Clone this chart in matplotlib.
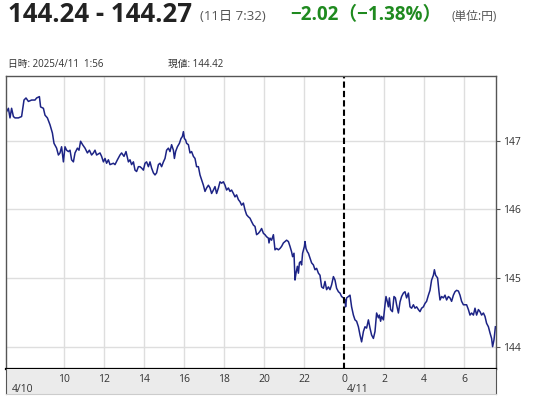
import matplotlib
matplotlib.use('Agg')
import matplotlib.pyplot as plt

plt.rcParams['font.family'] = ['Open Sans', 'Noto Sans CJK JP', 'DejaVu Sans']

# hours counted from 2025/4/10 0:00
hours = [7.13, 7.22, 7.30, 7.38, 7.47, 7.55, 7.72, 7.88, 8.0, 8.1, 8.22, 8.38, 8.55, 8.63, 8.77,
         8.83, 8.97, 9.05, 9.17, 9.3, 9.42, 9.5, 9.63, 9.72, 9.8, 9.88, 9.97, 10.05, 10.13, 10.22,
         10.3, 10.38, 10.47, 10.55, 10.67, 10.75, 10.83, 10.93, 11.05, 11.17, 11.27, 11.38, 11.47,
         11.55, 11.63, 11.8, 11.88, 11.97, 12.05, 12.13, 12.22, 12.3, 12.47, 12.55, 12.67, 12.8,
         12.88, 13.0, 13.1,
         13.22, 13.3, 13.38, 13.47, 13.55, 13.63, 13.72, 13.8, 13.88, 13.97, 14.05, 14.13, 14.22,
         14.3, 14.38, 14.47, 14.55, 14.63, 14.72, 14.8, 14.88, 14.97, 15.05, 15.13, 15.22, 15.3,
         15.38, 15.47, 15.52, 15.58, 15.67, 15.77, 15.85, 15.92, 15.97, 16.02, 16.08, 16.13, 16.22,
         16.3, 16.38, 16.47, 16.55, 16.63, 16.72, 16.8, 16.88, 16.97, 17.05, 17.13, 17.22, 17.3,
         17.38, 17.47, 17.55, 17.63, 17.72, 17.8, 17.88, 17.97, 18.05, 18.13, 18.22, 18.3, 18.38,
         18.47, 18.55, 18.63, 18.72, 18.8, 18.88, 18.97, 19.05, 19.13, 19.22,
         19.3, 19.38, 19.47, 19.55, 19.63, 19.72, 19.8, 19.88, 19.97, 20.05, 20.13, 20.22, 20.25,
         20.3, 20.38, 20.47, 20.55, 20.63, 20.72, 20.8, 20.88, 20.97, 21.05, 21.13, 21.22, 21.3,
         21.38, 21.43, 21.5, 21.55, 21.6, 21.67, 21.72, 21.77, 21.83, 21.88, 21.93, 22.02, 22.05,
         22.1, 22.17, 22.22, 22.3, 22.38, 22.47, 22.55, 22.63, 22.72, 22.8, 22.88, 22.97, 23.05,
         23.13, 23.22, 23.3, 23.38, 23.47, 23.55, 23.63, 23.72, 23.8, 23.88, 23.97, 24.05, 24.08,
         24.13, 24.22, 24.3, 24.38, 24.47, 24.55, 24.63, 24.72, 24.8, 24.88, 24.97, 25.05, 25.13,
         25.22,
         25.3, 25.38, 25.47, 25.55, 25.63, 25.72, 25.77, 25.83, 25.88, 25.97, 26.05, 26.1, 26.17,
         26.22, 26.27, 26.33, 26.42, 26.5, 26.57, 26.63, 26.72, 26.8, 26.88, 26.97, 27.05, 27.13,
         27.22, 27.3, 27.38, 27.47, 27.55, 27.63, 27.72, 27.8, 27.88, 27.97, 28.05, 28.13, 28.22,
         28.3, 28.38, 28.47, 28.52, 28.58, 28.68, 28.75, 28.8, 28.88, 28.97, 29.05, 29.13, 29.22,
         29.3, 29.38, 29.47, 29.55, 29.63, 29.72, 29.8, 29.88, 29.97, 30.13, 30.22, 30.3, 30.38,
         30.47, 30.55, 30.63, 30.72, 30.8, 30.88, 30.97, 31.05, 31.13, 31.22, 31.3, 31.38, 31.43,
         31.5, 31.57]

price = [147.42, 147.47, 147.33, 147.47, 147.35, 147.33, 147.33, 147.35, 147.59, 147.62, 147.57,
         147.59, 147.59, 147.62, 147.64, 147.49, 147.47, 147.37, 147.33, 147.23, 147.11, 146.96,
         146.89, 146.79, 146.82, 146.91, 146.69, 146.91, 146.86, 146.84, 146.86, 146.72, 146.69,
         146.82, 146.89, 146.86, 146.99, 146.94, 146.89, 146.82, 146.86, 146.79, 146.82, 146.86,
         146.79, 146.82, 146.77, 146.69, 146.74, 146.67, 146.72, 146.65, 146.67, 146.65, 146.72,
         146.79, 146.82, 146.77, 146.84,
         146.69, 146.72, 146.65, 146.69, 146.57, 146.55, 146.62, 146.62, 146.60, 146.57, 146.67,
         146.69, 146.62, 146.69, 146.60, 146.53, 146.50, 146.53, 146.65, 146.67, 146.62, 146.69,
         146.74, 146.86, 146.89, 146.84, 146.94, 146.86, 146.74, 146.84, 146.91, 146.96, 147.03,
         147.06, 147.13, 147.03, 147.01, 146.96, 146.94, 146.82, 146.84, 146.77, 146.74, 146.62,
         146.62, 146.50, 146.43, 146.35, 146.26, 146.31, 146.35, 146.31, 146.23, 146.28, 146.33,
         146.23, 146.31, 146.40, 146.38, 146.40, 146.35, 146.28, 146.31, 146.26, 146.28, 146.23,
         146.18, 146.21, 146.14, 146.11, 146.06, 146.09, 145.99, 145.92, 145.89,
         145.87, 145.82, 145.77, 145.75, 145.63, 145.65, 145.68, 145.72, 145.65, 145.63, 145.60,
         145.58, 145.51, 145.58, 145.55, 145.63, 145.41, 145.43, 145.41, 145.43, 145.46, 145.51,
         145.53, 145.55, 145.53, 145.46, 145.38, 145.31, 145.36, 144.97, 145.07, 145.17, 145.07,
         145.22, 145.24, 145.19, 145.36, 145.46, 145.53, 145.43, 145.38, 145.36, 145.29, 145.22,
         145.19, 145.12, 145.14, 145.07, 145.04, 144.87, 144.85, 144.95, 144.83, 144.87, 144.83,
         144.90, 145.02, 144.97, 144.85, 144.80, 144.78, 144.73, 144.71, 144.68, 144.58, 144.71,
         144.73, 144.75, 144.58, 144.46, 144.39, 144.37, 144.29, 144.17, 144.07, 144.22, 144.29,
         144.27, 144.39,
         144.27, 144.17, 144.12, 144.22, 144.49, 144.42, 144.46, 144.37, 144.44, 144.39, 144.61,
         144.73, 144.65, 144.58, 144.71, 144.54, 144.51, 144.73, 144.71, 144.61, 144.49, 144.65,
         144.73, 144.78, 144.80, 144.71, 144.78, 144.58, 144.56, 144.61, 144.56, 144.58, 144.54,
         144.51, 144.56, 144.58, 144.63, 144.66, 144.75, 144.82, 144.97, 145.04, 145.12, 145.04,
         145.00, 144.80, 144.68, 144.73, 144.71, 144.75, 144.68, 144.73, 144.71, 144.66, 144.75,
         144.80, 144.82, 144.81, 144.75, 144.66, 144.61, 144.61, 144.54, 144.46, 144.49, 144.46,
         144.56, 144.46, 144.54, 144.51, 144.46, 144.49, 144.44, 144.34, 144.29, 144.20, 144.12,
         144.00, 144.10, 144.29]

x_ticks = [10, 12, 14, 16, 18, 20, 22, 24, 26, 28, 30]
x_labels = ['10', '12', '14', '16', '18', '20', '22', '0', '2', '4', '6']
y_ticks = [144, 145, 146, 147]
day_labels = ['4/10', '4/11']
day_pos = [7.4, 24.15]
midnight = 24


def main():
    fig = plt.figure(figsize=(5.38, 4.0), dpi=100)
    W, H = 538.0, 400.0

    # header
    fig.text(8 / W, 1 - 14 / H, '144.24 - 144.27', fontsize=18.5, fontweight='bold',
             color='#222222', va='center')
    fig.text(200 / W, 1 - 17 / H, '(11日 7:32)', fontsize=9.5, color='#555555', va='center')
    fig.text(290 / W, 1 - 15 / H, '−2.02（−1.38%）', fontsize=13.5, fontweight='bold',
             color='#1f8a1f', va='center')
    fig.text(452 / W, 1 - 17 / H, '(単位:円)', fontsize=8.5, color='#555555', va='center')
    fig.text(8 / W, 1 - 64 / H, '日時: 2025/4/11  1:56', fontsize=7, color='#333333', va='center')
    fig.text(168 / W, 1 - 64 / H, '現値: 144.42', fontsize=7, color='#333333', va='center')

    # main plot
    ax = fig.add_axes([6 / W, 1 - 369 / H, 490 / W, 293 / H])
    ax.plot(hours, price, color='#1c2385', lw=1.1)
    ax.set_xlim(7.1, 31.6)
    ax.set_ylim(143.675, 147.94)
    for x in x_ticks:
        if x != midnight:
            ax.axvline(x, color='#dedede', lw=1, zorder=0)
    for y in y_ticks:
        ax.axhline(y, color='#dedede', lw=1, zorder=0)
    ax.axvline(midnight, color='black', lw=1.5, ls=(0, (3, 1.5)))
    ax.set_xticks([])
    ax.yaxis.tick_right()
    ax.set_yticks(y_ticks)
    ax.set_yticklabels([str(y) for y in y_ticks], fontsize=7.5, color='#333333')
    ax.tick_params(axis='y', length=3, color='#555555', pad=2)
    for s in ['left', 'right', 'top']:
        ax.spines[s].set_color('#555555')
        ax.spines[s].set_linewidth(1)
    ax.spines['bottom'].set_color('black')
    ax.spines['bottom'].set_linewidth(1.6)

    # time band below
    band = fig.add_axes([6 / W, 1 - 394 / H, 490 / W, 25 / H])
    band.set_facecolor('#ebebeb')
    band.set_xlim(ax.get_xlim())
    band.set_ylim(0, 1)
    band.set_xticks([])
    band.set_yticks([])
    for s in ['left', 'right']:
        band.spines[s].set_color('#555555')
    band.spines['top'].set_visible(False)
    band.spines['bottom'].set_color('#cccccc')
    for x, lab in zip(x_ticks, x_labels):
        band.text(x, 0.6, lab, fontsize=7.5, color='#333333', ha='center', va='center')
    for x, lab in zip(day_pos, day_labels):
        band.text(x, 0.2, lab, fontsize=7.5, color='#333333', ha='left', va='center')

    fig.savefig('out.png', dpi=100)


if __name__ == '__main__':
    main()
